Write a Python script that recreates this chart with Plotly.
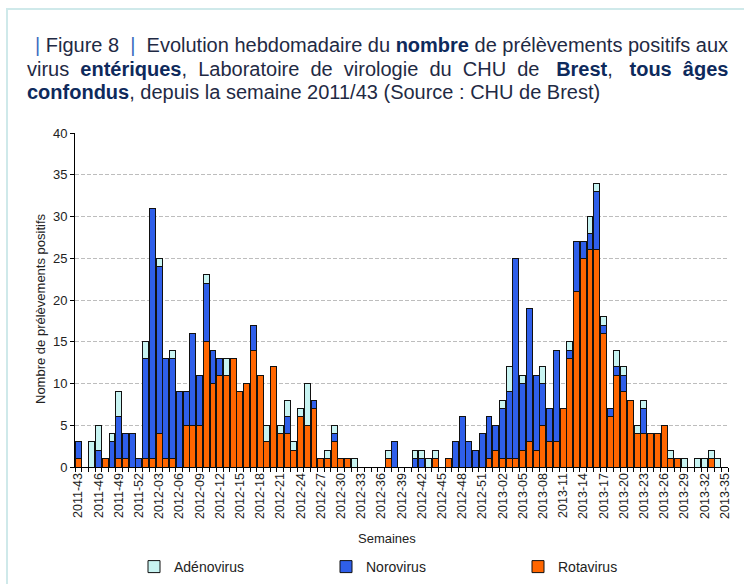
import plotly.graph_objects as go

# ---- Data ----
def week_labels():
    labs = []
    for w in range(43, 53):
        labs.append(f"2011-{w:02d}")
    for w in range(1, 53):
        labs.append(f"2012-{w:02d}")
    for w in range(1, 36):
        labs.append(f"2013-{w:02d}")
    return labs

weeks = week_labels()

rotavirus = [1, 0, 0, 0, 1, 0, 1, 1, 0, 0,
             1, 1, 4, 1, 1, 0, 5, 5, 5, 15,
             10, 11, 11, 13, 9, 10, 14, 11, 3, 12,
             4, 4, 2, 6, 5, 7, 1, 1, 3, 1,
             1, 0, 0, 0, 0, 0, 1, 0, 0, 0,
             0, 0, 0, 1, 0, 1, 0, 0, 0, 0,
             0, 1, 2, 1, 1, 1, 2, 3, 2, 5,
             3, 3, 7, 13, 21, 25, 26, 26, 16, 6,
             11, 9, 8, 4, 4, 4, 4, 5, 1, 1,
             0, 0, 0, 0, 1, 0, 0]

norovirus = [2, 0, 0, 2, 0, 3, 5, 3, 4, 1,
             12, 30, 20, 12, 12, 9, 4, 11, 6, 7,
             4, 2, 0, 0, 0, 0, 3, 0, 0, 0,
             0, 2, 0, 0, 0, 1, 0, 0, 1, 0,
             0, 0, 0, 0, 0, 0, 0, 3, 0, 0,
             1, 1, 0, 0, 0, 0, 3, 6, 3, 2,
             4, 5, 3, 6, 8, 24, 8, 16, 9, 5,
             4, 11, 0, 1, 6, 2, 2, 7, 1, 1,
             1, 2, 0, 0, 3, 0, 0, 0, 0, 0,
             0, 0, 0, 0, 0, 0, 0]

adenovirus = [0, 0, 3, 3, 0, 1, 3, 0, 0, 0,
              2, 0, 1, 0, 1, 0, 0, 0, 0, 1,
              0, 0, 2, 0, 0, 0, 0, 0, 2, 0,
              1, 2, 1, 1, 5, 0, 0, 1, 1, 0,
              0, 1, 0, 0, 0, 0, 1, 0, 0, 0,
              1, 1, 1, 1, 0, 0, 0, 0, 0, 0,
              0, 0, 0, 1, 3, 0, 1, 0, 0, 2,
              0, 0, 0, 1, 0, 0, 2, 1, 1, 0,
              2, 1, 0, 1, 1, 0, 0, 0, 1, 0,
              1, 0, 1, 1, 1, 1, 0]

tick_every = 3
xpos = list(range(len(weeks)))

def nz(v):
    return [x if x else None for x in v]

FONT = "Liberation Sans, Arial, sans-serif"

fig = go.Figure()
series = [("Rotavirus", rotavirus, "#FF6600"),
          ("Norovirus", norovirus, "#2F5FEA"),
          ("Adénovirus", adenovirus, "#C8F4F2")]
for name, vals, col in series:
    fig.add_trace(go.Bar(x=xpos, y=nz(vals), name=name,
                         marker=dict(color=col, line=dict(color="#111111", width=1))))

W, H = 744, 584
ml, mr, mt, mb = 75, 16, 133, 117
pw, ph = W - ml - mr, H - mt - mb

def px(x):
    return (x - ml) / pw

def py(y):
    return (H - mb - y) / ph

fig.update_layout(
    width=W, height=H,
    margin=dict(l=ml, r=mr, t=mt, b=mb, autoexpand=False),
    barmode="stack", bargap=0.12,
    paper_bgcolor="white", plot_bgcolor="white",
    font=dict(family=FONT, color="#222222"),
    legend=dict(orientation="h", traceorder="reversed",
                xref="container", yref="container",
                x=134 / W, y=1 - 567 / H, xanchor="left", yanchor="middle",
                font=dict(size=14, color="#222222"),
                entrywidth=147, entrywidthmode="pixels",
                itemwidth=30),
)

fig.update_xaxes(
    range=[-0.5, len(weeks) - 0.5],
    tickmode="array",
    tickvals=xpos[::tick_every],
    ticktext=weeks[::tick_every],
    tickangle=-90,
    tickfont=dict(size=12.5, color="#222222"),
    showline=True, linecolor="black", linewidth=1,
    ticks="", showgrid=False, zeroline=False, automargin=False,
    minor=dict(ticks="outside", ticklen=4, tickcolor="black",
               tickmode="linear", tick0=-0.5, dtick=1, showgrid=False),
)

fig.update_yaxes(
    range=[0, 40], dtick=5,
    tickfont=dict(size=13, color="#222222"),
    showline=True, linecolor="black", linewidth=1,
    ticks="outside", ticklen=4, tickcolor="black",
    showgrid=True, gridcolor="#bdbdbd", griddash="4px,2px", gridwidth=1,
    zeroline=False, automargin=False,
)

normal = "#1f2a44"
bold = "#0e2a5c"
pipe = "#3a6cc0"
sp = "\u00a0"
title_lines = [
    (f"<span style='color:{pipe}'>|</span>{sp}Figure{sp}8{sp}{sp}<span style='color:{pipe}'>|</span>{sp}{sp}"
     f"Evolution hebdomadaire du <b style='color:{bold}'>nombre</b> de prélèvements positifs aux", 33, 45),
    (f"virus{sp}{sp}<b style='color:{bold}'>entériques</b>,{sp}{sp}Laboratoire{sp}{sp}de{sp}{sp}virologie{sp}{sp}du{sp}{sp}CHU{sp}{sp}de{sp}{sp}{sp}"
     f"<b style='color:{bold}'>Brest</b>,{sp}{sp}{sp}<b style='color:{bold}'>tous{sp}{sp}âges</b>", 25, 69),
    (f"<b style='color:{bold}'>confondus</b>, depuis la semaine 2011/43 (Source : CHU de Brest)", 25, 92),
]
for txt, x0, y0 in title_lines:
    fig.add_annotation(text=txt, xref="paper", yref="paper", x=px(x0), y=py(y0),
                       xanchor="left", yanchor="middle", showarrow=False,
                       font=dict(size=20, color=normal, family=FONT))

fig.add_annotation(text="Semaines", xref="paper", yref="paper", x=px(387), y=py(538),
                   xanchor="center", yanchor="middle", showarrow=False,
                   font=dict(size=13, color="#222222", family=FONT))
fig.add_annotation(text="Nombre de prélèvements positifs", xref="paper", yref="paper",
                   x=px(40), y=py(309), xanchor="center", yanchor="middle",
                   textangle=-90, showarrow=False,
                   font=dict(size=13, color="#222222", family=FONT))

# frame
fig.add_shape(type="rect", xref="paper", yref="paper",
              x0=px(7), y0=py(9), x1=px(800), y1=py(640),
              line=dict(color="#cfe9ea", width=2), fillcolor="rgba(0,0,0,0)", layer="below")

fig.write_html("out.html",
               config={"displayModeBar": False},
               post_script="document.body.style.margin='0px';document.body.style.overflow='hidden';")
